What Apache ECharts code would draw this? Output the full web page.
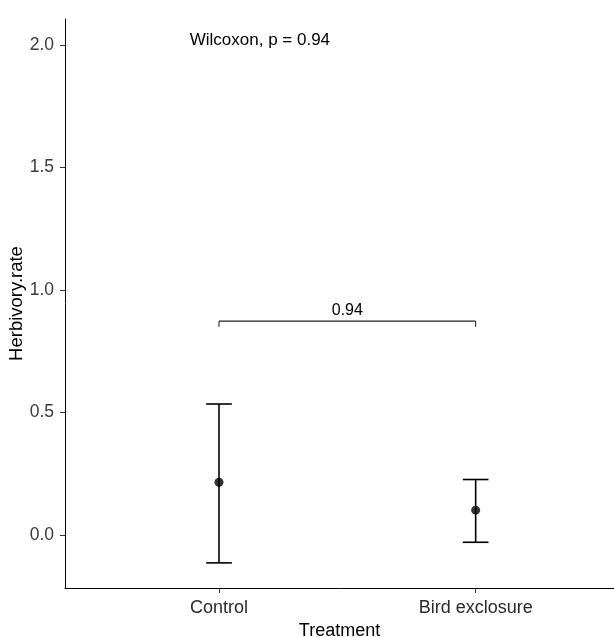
<!DOCTYPE html>
<html>
<head>
<meta charset="utf-8">
<script src="https://cdn.jsdelivr.net/npm/echarts@6/dist/echarts.min.js"></script>
<style>html,body{margin:0;padding:0;background:#fff}#c{width:614px;height:637px}</style>
</head>
<body>
<div id="c"></div>
<script>
const categories = ['Control', 'Bird exclosure'];
const means = [0.216, 0.102];
const lowerCI = [-0.113, -0.029];
const upperCI = [0.535, 0.227];
const yTicks = [0, 0.5, 1.0, 1.5, 2.0];
const bracketY = 0.873;
const bracketTickY = 0.85;
const bracketLabel = '0.94';
const testLabel = 'Wilcoxon, p = 0.94';
const testLabelPos = [0.886, 2.02];

const FONT = 'Liberation Sans, Arial, sans-serif';
const chart = echarts.init(document.getElementById('c'), null, {renderer: 'canvas'});

const pointData = categories.map((c, i) => [i + 1, means[i]]);
const errData = categories.map((c, i) => [i + 1, lowerCI[i], upperCI[i]]);

chart.setOption({
  animation: false,
  backgroundColor: '#ffffff',
  grid: {left: 65, right: 0, top: 19, bottom: 49, containLabel: false, outerBoundsMode: 'none'},
  xAxis: {
    type: 'value', min: 0.4, max: 2.539,
    name: 'Treatment', nameLocation: 'middle', nameGap: 34, nameMoveOverlap: false,
    nameTextStyle: {color: '#000', fontSize: 18, fontFamily: FONT},
    axisLine: {show: true, onZero: false, lineStyle: {color: '#000', width: 1}},
    axisTick: {show: true, length: 5, customValues: [1, 2], lineStyle: {color: '#333'}},
    axisLabel: {customValues: [1, 2], color: '#2a2a2a', fontSize: 18, fontFamily: FONT, margin: 11,
      formatter: v => categories[Math.round(v) - 1] || ''},
    splitLine: {show: false}
  },
  yAxis: {
    type: 'value', min: -0.2155, max: 2.1055,
    name: 'Herbivory.rate', nameLocation: 'middle', nameGap: 39, nameMoveOverlap: false,
    nameTextStyle: {color: '#000', fontSize: 18.5, fontFamily: FONT},
    axisLine: {show: true, onZero: false, lineStyle: {color: '#000', width: 1}},
    axisTick: {show: true, length: 5, customValues: yTicks, lineStyle: {color: '#333'}},
    axisLabel: {customValues: yTicks, color: '#3a3a3a', fontSize: 17.5, fontFamily: FONT, margin: 11,
      formatter: v => v.toFixed(1)},
    splitLine: {show: false}
  },
  series: [
    {
      type: 'custom',
      data: errData,
      renderItem: (params, api) => {
        const x = api.value(0);
        const lo = api.coord([x, api.value(1)]);
        const hi = api.coord([x, api.value(2)]);
        const l = api.coord([x - 0.05, api.value(1)])[0];
        const r = api.coord([x + 0.05, api.value(1)])[0];
        const st = {stroke: '#000', lineWidth: 1.6};
        return {type: 'group', children: [
          {type: 'line', shape: {x1: lo[0], y1: lo[1], x2: hi[0], y2: hi[1]}, style: st},
          {type: 'line', shape: {x1: l, y1: lo[1], x2: r, y2: lo[1]}, style: st},
          {type: 'line', shape: {x1: l, y1: hi[1], x2: r, y2: hi[1]}, style: st}
        ]};
      },
      z: 2
    },
    {
      type: 'scatter',
      data: pointData,
      symbol: 'circle', symbolSize: 9,
      itemStyle: {color: '#000'},
      z: 3
    },
    {
      type: 'custom',
      data: [[1, 2, bracketY, bracketTickY]],
      renderItem: (params, api) => {
        const a = api.coord([api.value(0), api.value(2)]);
        const b = api.coord([api.value(1), api.value(2)]);
        const ta = api.coord([api.value(0), api.value(3)]);
        const st = {stroke: '#222', lineWidth: 1.1};
        return {type: 'group', children: [
          {type: 'line', shape: {x1: a[0], y1: a[1], x2: b[0], y2: b[1]}, style: st},
          {type: 'line', shape: {x1: a[0], y1: a[1], x2: a[0], y2: ta[1]}, style: st},
          {type: 'line', shape: {x1: b[0], y1: b[1], x2: b[0], y2: ta[1]}, style: st},
          {type: 'text', style: {x: (a[0] + b[0]) / 2, y: a[1] - 3, text: bracketLabel,
            textAlign: 'center', textVerticalAlign: 'bottom', fill: '#000', fontSize: 16, fontFamily: FONT}}
        ]};
      }
    },
    {
      type: 'custom',
      data: [testLabelPos],
      renderItem: (params, api) => {
        const p = api.coord([api.value(0), api.value(1)]);
        return {type: 'text', style: {x: p[0], y: p[1], text: testLabel, textAlign: 'left',
          textVerticalAlign: 'middle', fill: '#000', fontSize: 17, fontFamily: FONT}};
      }
    }
  ]
});
</script>
</body>
</html>
